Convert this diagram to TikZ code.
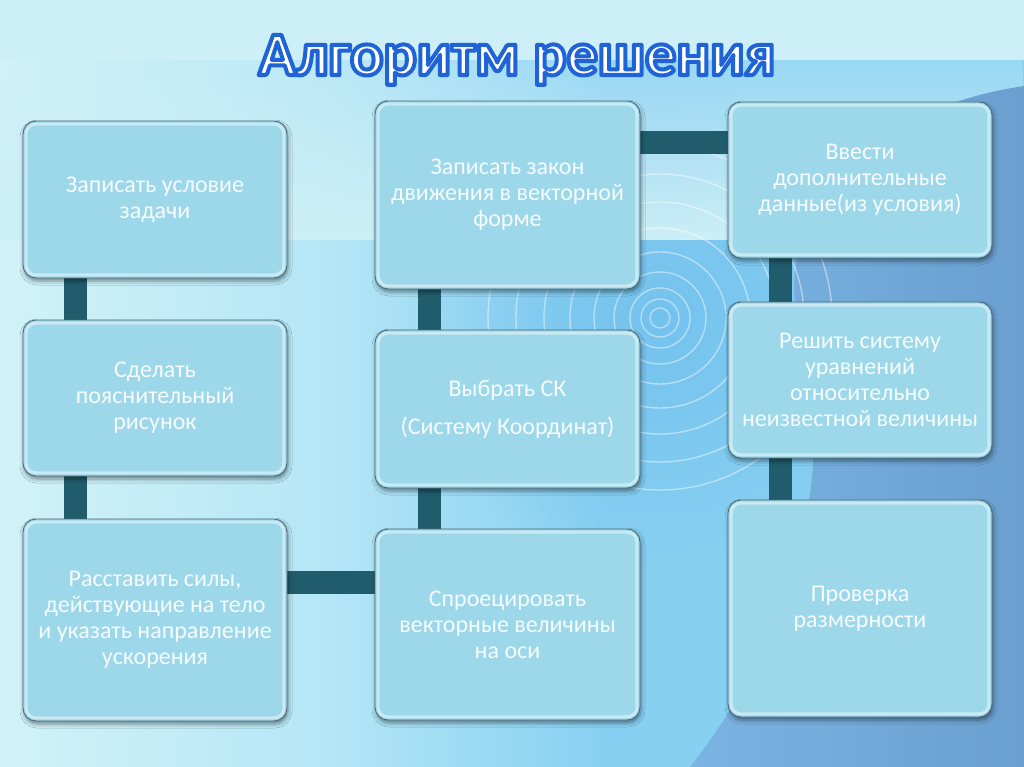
\documentclass[tikz,border=0pt]{standalone}
\usepackage{fontspec}
\setmainfont{Carlito}
\usetikzlibrary{shadows.blur,fadings,calc}
\definecolor{cA}{HTML}{D2F2F8}
\definecolor{cB}{HTML}{B4E6F6}
\definecolor{cC}{HTML}{88D0F2}
\definecolor{ctop}{HTML}{CDEFF7}
\definecolor{csky}{HTML}{74C2EE}
\definecolor{cdarkA}{HTML}{7AB4E2}
\definecolor{cdarkB}{HTML}{6A9FCF}
\definecolor{boxfill}{HTML}{9DD7EA}
\definecolor{boxline}{HTML}{4E6C78}
\definecolor{conncol}{HTML}{215C6C}
\definecolor{btext}{HTML}{F6FCFE}
\tikzfading[name=softglow, inner color=transparent!0, outer color=transparent!100]
\pgfdeclarelayer{back}
\pgfdeclarelayer{conn}
\pgfsetlayers{back,conn,main}
\newcommand\boxfont{\fontsize{24}{26}\selectfont}
\newcommand\ttlfont{\fontsize{62}{64}\selectfont\bfseries}
\newcommand\outlinetext[1]{\special{pdf:literal direct 2 Tr 4 w 1 j 0.12 0.39 0.84 RG}#1\special{pdf:literal direct 0 Tr}}
\tikzset{
  box/.style={rectangle, rounded corners=13pt, fill=boxfill, draw=boxline,
    line width=0.9pt, text=btext, align=center, inner sep=0pt, font=\boxfont,
    blur shadow={shadow xshift=1pt, shadow yshift=-3pt, shadow blur radius=4pt, shadow opacity=45}},
  hl/.style={draw=white, draw opacity=0.45, line width=3pt, rounded corners=10pt},
  conn/.style={draw=conncol, line width=23pt},
  ring/.style={draw=white, draw opacity=0.45, line width=1.4pt},
  ttl/.style={font=\ttlfont, anchor=base, inner sep=0pt}
}
\begin{document}
\begin{tikzpicture}[x=1pt,y=-1pt]
\useasboundingbox (0,0) rectangle (1024,767);

% boxes
\node[box, minimum width=264pt, minimum height=157pt] (b1) at (155,199.5) {Записать условие\\задачи};
\node[box, minimum width=264pt, minimum height=156pt] (b2) at (155,398) {Сделать\\пояснительный\\рисунок};
\node[box, minimum width=264pt, minimum height=202pt] (b3) at (155,620) {Расставить силы,\\действующие на тело\\и указать направление\\ускорения};
\node[box, minimum width=265pt, minimum height=188pt] (b4) at (507.5,195) {Записать закон\\движения в векторной\\форме};
\node[box, minimum width=265pt, minimum height=158pt] (b5) at (507.5,409) {Выбрать СК\\[12pt](Систему Координат)};
\node[box, minimum width=265pt, minimum height=191pt] (b6) at (507.5,624.5) {Спроецировать\\векторные величины\\на оси};
\node[box, minimum width=264pt, minimum height=156pt] (b7) at (860,180) {Ввести\\дополнительные\\данные(из условия)};
\node[box, minimum width=264pt, minimum height=156pt] (b8) at (860,380) {Решить систему\\уравнений\\относительно\\неизвестной величины};
\node[box, minimum width=264pt, minimum height=217pt] (b9) at (860,608.5) {Проверка\\размерности};

\foreach \n in {b1,b2,b3,b4,b5,b6,b7,b8,b9}
  \draw[hl] ([shift={(3.5,3.5)}]\n.north west) rectangle ([shift={(-3.5,-3.5)}]\n.south east);

% title
\node[ttl, text=white] (title) at (517,75) {\outlinetext{Алгоритм решения}};

% connectors
\begin{pgfonlayer}{conn}
\draw[conn] ([xshift=53pt]b1.south west) -- ([xshift=53pt]b2.north west);
\draw[conn] ([xshift=53pt]b2.south west) -- ([xshift=53pt]b3.north west);
\draw[conn] ([yshift=38pt]b3.east) -- ([yshift=38pt]b3.east -| b6.west);
\draw[conn] ([xshift=55pt]b6.north west) -- ([xshift=55pt]b5.south west);
\draw[conn] ([xshift=55pt]b5.north west) -- ([xshift=55pt]b4.south west);
\draw[conn] ([yshift=52pt]b4.east) -- ([yshift=52pt]b4.east -| b7.west);
\draw[conn] ([xshift=53pt]b7.south west) -- ([xshift=53pt]b8.north west);
\draw[conn] ([xshift=53pt]b8.south west) -- ([xshift=53pt]b9.north west);
\end{pgfonlayer}

% background
\begin{pgfonlayer}{back}
\fill[cA] (0,0) rectangle (1024,767);
\shade[left color=cA, right color=cB] (0,0) rectangle (331,767);
\shade[left color=cB, right color=cC] (330,0) rectangle (601,767);
\fill[cC] (600,0) rectangle (1024,767);
\fill[csky, path fading=softglow] (657,318) circle (250);
\fill[ctop, path fading=north] (0,0) rectangle (1024,240);
\fill[ctop] (0,0) rectangle (1024,60);
\shade[left color=cdarkA, right color=cdarkB] (1024,86) -- (1024,767) -- (690,767)
  .. controls (790,640) and (840,480) .. (800,330)
  .. controls (770,220) and (860,110) .. (1024,86) -- cycle;
\foreach \r in {10,19,30,46,66,90,116,144,172}
  \draw[ring] (660,318) circle (\r);
\end{pgfonlayer}
\end{tikzpicture}
\end{document}
